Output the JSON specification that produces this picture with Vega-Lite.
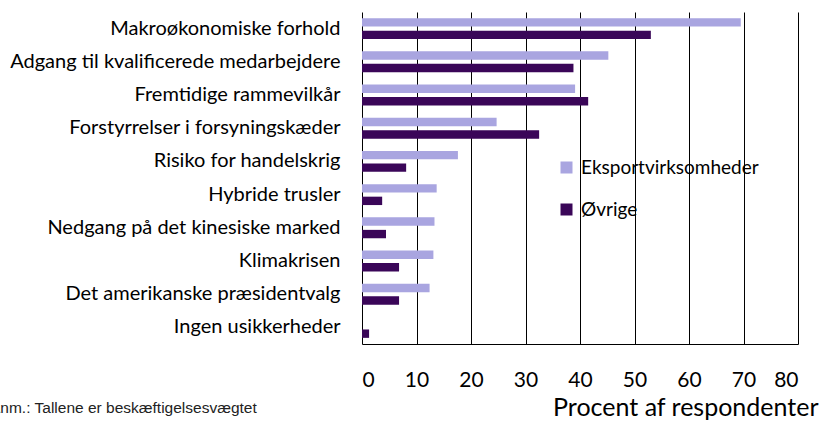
{
  "$schema": "https://vega.github.io/schema/vega-lite/v6.json",
  "autosize": "none",
  "padding": {"left": 362, "top": 12, "right": 27, "bottom": 79},
  "width": 436,
  "height": 332,
  "background": "white",
  "title": {
    "text": "Anm.: Tallene er beskæftigelsesvægtet",
    "orient": "bottom",
    "anchor": "start",
    "frame": "group",
    "font": "Liberation Sans",
    "fontSize": 15.5,
    "fontWeight": "normal",
    "color": "#222222",
    "dx": -372,
    "offset": -19
  },
  "data": {
    "values": [
      {"kategori": "Makroøkonomiske forhold ", "gruppe": "Eksportvirksomheder", "pct": 69.5},
      {"kategori": "Makroøkonomiske forhold ", "gruppe": "Øvrige", "pct": 53.0},
      {"kategori": "Adgang til kvalificerede medarbejdere", "gruppe": "Eksportvirksomheder", "pct": 45.2},
      {"kategori": "Adgang til kvalificerede medarbejdere", "gruppe": "Øvrige", "pct": 38.8},
      {"kategori": "Fremtidige rammevilkår", "gruppe": "Eksportvirksomheder", "pct": 39.1},
      {"kategori": "Fremtidige rammevilkår", "gruppe": "Øvrige", "pct": 41.5},
      {"kategori": "Forstyrrelser i forsyningskæder", "gruppe": "Eksportvirksomheder", "pct": 24.7},
      {"kategori": "Forstyrrelser i forsyningskæder", "gruppe": "Øvrige", "pct": 32.5},
      {"kategori": "Risiko for handelskrig", "gruppe": "Eksportvirksomheder", "pct": 17.6},
      {"kategori": "Risiko for handelskrig", "gruppe": "Øvrige", "pct": 8.1},
      {"kategori": "Hybride trusler", "gruppe": "Eksportvirksomheder", "pct": 13.7},
      {"kategori": "Hybride trusler", "gruppe": "Øvrige", "pct": 3.7},
      {"kategori": "Nedgang på det kinesiske marked", "gruppe": "Eksportvirksomheder", "pct": 13.3},
      {"kategori": "Nedgang på det kinesiske marked", "gruppe": "Øvrige", "pct": 4.4},
      {"kategori": "Klimakrisen", "gruppe": "Eksportvirksomheder", "pct": 13.1},
      {"kategori": "Klimakrisen", "gruppe": "Øvrige", "pct": 6.8},
      {"kategori": "Det amerikanske præsidentvalg", "gruppe": "Eksportvirksomheder", "pct": 12.4},
      {"kategori": "Det amerikanske præsidentvalg", "gruppe": "Øvrige", "pct": 6.8},
      {"kategori": "Ingen usikkerheder", "gruppe": "Eksportvirksomheder", "pct": 0},
      {"kategori": "Ingen usikkerheder", "gruppe": "Øvrige", "pct": 1.3}
    ]
  },
  "mark": {"type": "bar"},
  "encoding": {
    "y": {
      "field": "kategori",
      "type": "nominal",
      "sort": null,
      "scale": {"paddingInner": 0.37, "paddingOuter": 0.185},
      "axis": {
        "title": null,
        "domain": false,
        "ticks": false,
        "labelFont": "Lato",
        "labelFontSize": 20,
        "labelColor": "#000000",
        "labelPadding": 22,
        "labelLimit": 400
      }
    },
    "yOffset": {
      "field": "gruppe",
      "type": "nominal",
      "sort": ["Eksportvirksomheder", "Øvrige"],
      "scale": {"paddingInner": 0.33, "paddingOuter": 0}
    },
    "x": {
      "field": "pct",
      "type": "quantitative",
      "scale": {"domain": [0, 80], "nice": false},
      "axis": {
        "values": [0, 10, 20, 30, 40, 50, 60, 70, 80],
        "title": "Procent af respondenter",
        "titleFont": "Lato",
        "titleFontSize": 25,
        "titleFontWeight": "normal",
        "titleColor": "#000000",
        "titleAlign": "right",
        "titleAnchor": null,
        "titleX": 456,
        "titleY": 71,
        "titleBaseline": "alphabetic",
        "labelFont": "Lato",
        "labelFontSize": 21,
        "labelColor": "#000000",
        "labelPadding": 25,
        "ticks": false,
        "domain": true,
        "domainColor": "#000000",
        "domainWidth": 1,
        "grid": true,
        "gridColor": "#000000",
        "gridOpacity": 1,
        "gridWidth": 1
      }
    },
    "color": {
      "field": "gruppe",
      "type": "nominal",
      "sort": ["Eksportvirksomheder", "Øvrige"],
      "scale": {"domain": ["Eksportvirksomheder", "Øvrige"], "range": ["#a9a5e0", "#3a0658"]},
      "legend": {
        "title": null,
        "orient": "none",
        "legendX": 195,
        "legendY": 146,
        "symbolType": "square",
        "symbolSize": 144,
        "symbolStrokeWidth": 0,
        "labelFont": "Lato",
        "labelFontSize": 19,
        "labelColor": "#000000",
        "labelOffset": 5,
        "labelLimit": 300,
        "rowPadding": 22
      }
    }
  },
  "config": {
    "view": {"stroke": null}
  }
}
